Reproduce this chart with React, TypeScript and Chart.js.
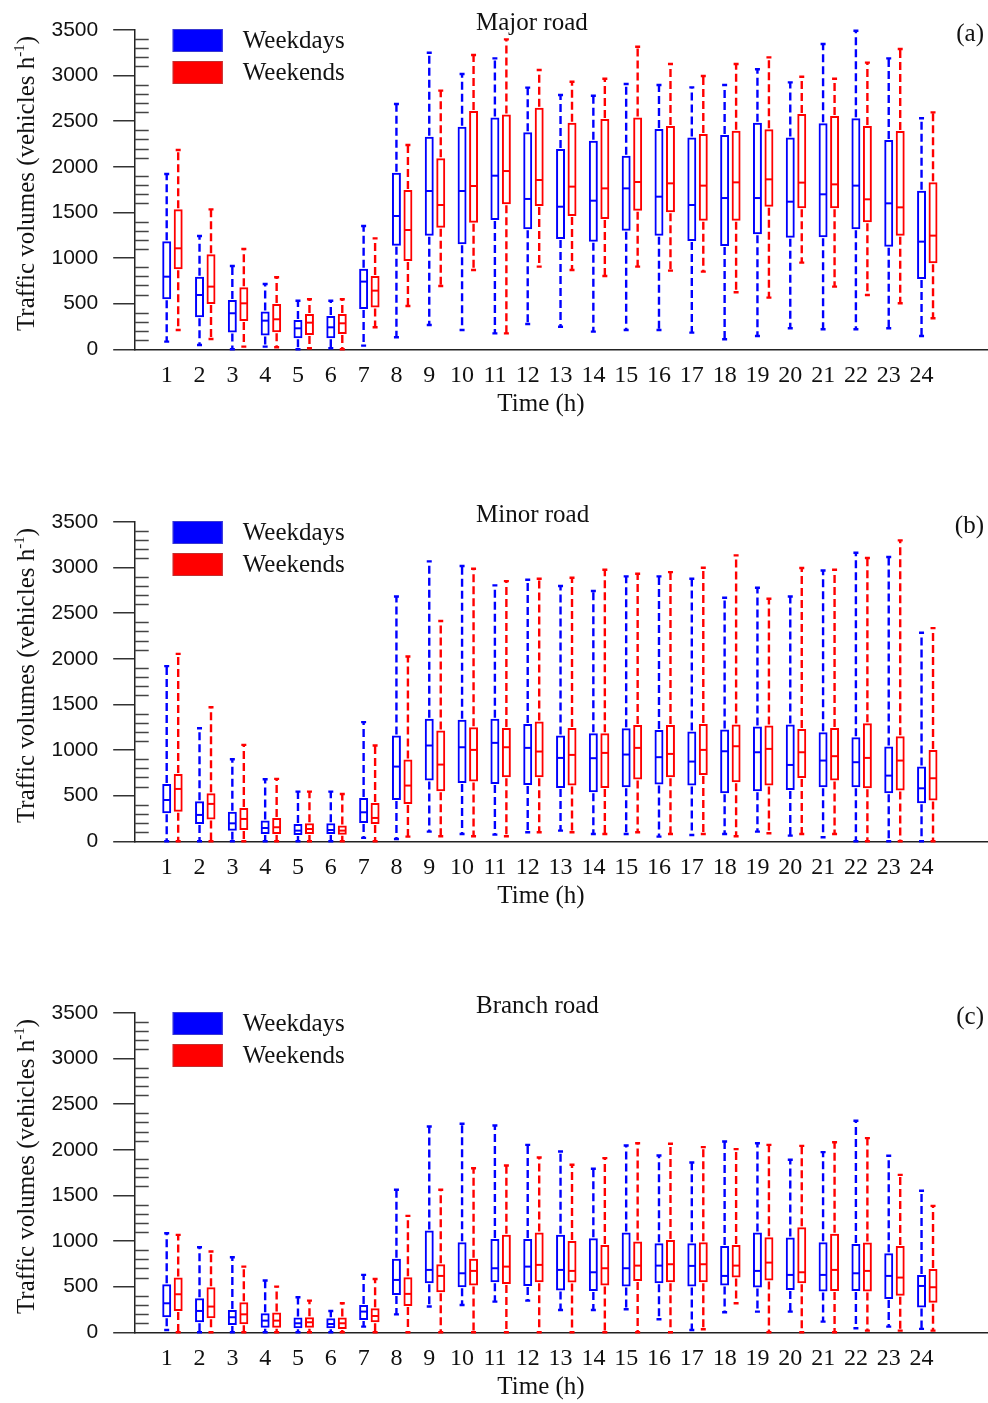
import React, { useEffect, useRef } from 'react';
import { Chart, registerables } from 'chart.js';

Chart.register(...registerables);

const hours = [1, 2, 3, 4, 5, 6, 7, 8, 9, 10, 11, 12, 13, 14, 15, 16, 17, 18, 19, 20, 21, 22, 23, 24];
const yTicks = [0, 500, 1000, 1500, 2000, 2500, 3000, 3500];

// (a) Major road – weekdays
const majorWdMax = [1921, 1242, 913, 716, 533, 533, 1352, 2689, 3251, 3017, 3189, 2868, 2787, 2780, 2908, 2897, 2871, 2897, 3069, 2926, 3346, 3492, 3189, 2532];
const majorWdQ3 = [1184, 796, 541, 413, 321, 365, 884, 1936, 2331, 2440, 2542, 2378, 2195, 2287, 2122, 2415, 2323, 2349, 2484, 2323, 2477, 2532, 2294, 1739];
const majorWdMed = [796, 595, 395, 314, 230, 241, 742, 1461, 1735, 1735, 1903, 1648, 1563, 1629, 1764, 1673, 1582, 1658, 1658, 1618, 1699, 1794, 1600, 1180];
const majorWdQ1 = [548, 351, 183, 150, 121, 121, 442, 1136, 1246, 1151, 1417, 1315, 1209, 1180, 1300, 1246, 1187, 1132, 1260, 1224, 1227, 1315, 1125, 771];
const majorWdMin = [84, 47, 0, 29, 0, 11, 40, 132, 267, 212, 175, 278, 248, 194, 212, 212, 183, 110, 146, 230, 219, 219, 230, 146];
// (a) Major road – weekends
const majorWeMax = [2185, 1534, 1100, 789, 548, 548, 1216, 2239, 2835, 3226, 3397, 3061, 2933, 2966, 3317, 3127, 2995, 3127, 3200, 2988, 2966, 3142, 3291, 2597];
const majorWeQ3 = [1534, 1041, 679, 497, 387, 387, 804, 1746, 2093, 2612, 2575, 2648, 2484, 2524, 2542, 2448, 2360, 2396, 2411, 2579, 2557, 2448, 2393, 1830];
const majorWeMed = [1107, 687, 504, 329, 292, 285, 643, 1308, 1582, 1790, 1954, 1856, 1783, 1764, 1834, 1819, 1794, 1830, 1863, 1827, 1808, 1644, 1556, 1246];
const majorWeQ1 = [877, 497, 311, 186, 157, 168, 457, 968, 1333, 1388, 1589, 1571, 1461, 1428, 1520, 1501, 1410, 1410, 1563, 1545, 1545, 1392, 1246, 942];
const majorWeMin = [212, 113, 29, 22, 11, 0, 241, 475, 694, 869, 175, 906, 869, 804, 906, 862, 851, 625, 566, 950, 687, 595, 504, 340];

// (b) Minor road – weekdays
const minorWdMax = [1920, 1240, 900, 680, 545, 545, 1306, 2684, 3068, 3017, 2805, 2867, 2798, 2743, 2904, 2904, 2878, 2670, 2779, 2684, 2969, 3163, 3116, 2286];
const minorWdQ3 = [629, 439, 325, 227, 190, 197, 475, 1159, 1342, 1331, 1342, 1287, 1159, 1185, 1240, 1221, 1203, 1225, 1258, 1280, 1196, 1141, 1039, 819];
const minorWdMed = [453, 289, 197, 146, 117, 124, 318, 819, 1050, 1031, 1079, 1024, 914, 911, 951, 922, 874, 987, 976, 837, 885, 867, 720, 581];
const minorWdQ1 = [307, 190, 117, 80, 69, 80, 201, 453, 666, 640, 629, 618, 585, 538, 592, 622, 611, 527, 549, 563, 592, 592, 527, 417];
const minorWdMin = [0, 0, 0, 0, 0, 0, 37, 26, 106, 80, 73, 99, 117, 80, 80, 51, 69, 80, 106, 62, 44, 0, 0, 0];
// (b) Minor road – weekends
const minorWeMax = [2055, 1470, 1057, 684, 545, 519, 1050, 2026, 2414, 2988, 2852, 2878, 2889, 2977, 2933, 2951, 2999, 3134, 2659, 2995, 2977, 3105, 3299, 2337];
const minorWeQ3 = [739, 527, 366, 256, 197, 172, 421, 896, 1214, 1251, 1243, 1313, 1243, 1185, 1276, 1276, 1287, 1280, 1269, 1232, 1243, 1295, 1152, 1002];
const minorWeMed = [574, 410, 245, 154, 135, 117, 256, 611, 841, 1002, 1031, 984, 947, 969, 1024, 958, 1002, 1042, 1013, 976, 933, 914, 885, 691];
const minorWeQ1 = [325, 238, 124, 80, 80, 73, 190, 410, 549, 655, 702, 702, 611, 585, 677, 702, 728, 647, 611, 695, 666, 581, 556, 446];
const minorWeMin = [0, 0, 0, 0, 0, 0, 0, 51, 55, 55, 55, 99, 99, 80, 99, 80, 80, 55, 88, 80, 80, 0, 0, 0];

// (c) Branch road – weekdays
const branchWdMax = [1086, 933, 823, 567, 384, 234, 629, 1562, 2256, 2286, 2267, 2055, 1982, 1792, 2048, 1938, 1861, 2092, 2073, 1891, 1975, 2319, 1935, 1551];
const branchWdQ3 = [527, 373, 245, 208, 161, 154, 300, 805, 1115, 987, 1024, 1024, 1068, 1031, 1093, 976, 976, 947, 1093, 1039, 987, 969, 867, 629];
const branchWdMed = [318, 234, 165, 128, 99, 91, 227, 574, 684, 647, 702, 720, 684, 658, 702, 731, 728, 618, 673, 629, 629, 647, 618, 508];
const branchWdQ1 = [165, 110, 80, 51, 44, 44, 135, 410, 538, 494, 549, 508, 457, 453, 501, 538, 501, 512, 490, 464, 446, 453, 366, 271];
const branchWdMin = [26, 0, 0, 0, 0, 0, 62, 197, 282, 300, 336, 347, 245, 245, 252, 143, 26, 219, 227, 227, 117, 44, 62, 37];
// (c) Branch road – weekends
const branchWeMax = [1068, 885, 720, 501, 347, 318, 585, 1276, 1562, 1799, 1829, 1916, 1836, 1909, 2073, 2066, 2030, 2008, 2055, 2044, 2084, 2128, 1726, 1386];
const branchWeQ3 = [600, 494, 329, 216, 165, 161, 263, 603, 746, 805, 1068, 1093, 1002, 958, 995, 1013, 987, 958, 1042, 1152, 1079, 984, 947, 695];
const branchWeMed = [417, 282, 197, 128, 110, 99, 179, 421, 618, 673, 720, 739, 673, 702, 731, 746, 746, 731, 764, 658, 684, 673, 600, 494];
const branchWeQ1 = [234, 154, 88, 51, 51, 37, 110, 289, 439, 512, 530, 549, 545, 512, 563, 549, 549, 600, 567, 538, 453, 446, 402, 325];
const branchWeMin = [0, 0, 0, 0, 0, 0, 0, 0, 0, 0, 0, 0, 0, 0, 0, 0, 33, 318, 0, 0, 0, 18, 18, 18];

const BLUE = '#0000ff';
const RED = '#ff0000';
const SERIF = '"Liberation Serif", "Times New Roman", serif';
const SANS = '"Liberation Sans", Arial, sans-serif';
const CANVAS_W = 988;
const CANVAS_H = 420;

type Stats = { max: number[]; q3: number[]; med: number[]; q1: number[]; min: number[] };

const boxPlugin = {
  id: 'boxplot',
  afterDatasetsDraw(chart: any) {
    const ctx = chart.ctx;
    const ys = chart.scales.y;
    chart.data.datasets.forEach((ds: any, d: number) => {
      const meta = chart.getDatasetMeta(d);
      const st: Stats = ds.stats;
      ctx.save();
      ctx.strokeStyle = ds.borderColor;
      meta.data.forEach((el: any, i: number) => {
        const x = el.x;
        const w = el.width;
        const pMax = ys.getPixelForValue(st.max[i]);
        const pMin = ys.getPixelForValue(st.min[i]);
        const pQ3 = ys.getPixelForValue(st.q3[i]);
        const pQ1 = ys.getPixelForValue(st.q1[i]);
        const pMed = ys.getPixelForValue(st.med[i]);
        // median
        ctx.setLineDash([]);
        ctx.lineWidth = 2;
        ctx.beginPath();
        ctx.moveTo(x - w / 2 + 1, pMed);
        ctx.lineTo(x + w / 2 - 1, pMed);
        ctx.stroke();
        // whiskers
        ctx.setLineDash([8, 4]);
        ctx.lineWidth = 2.4;
        ctx.beginPath();
        ctx.moveTo(x, pQ3 - 1);
        ctx.lineTo(x, pMax);
        ctx.moveTo(x, pQ1 + 1);
        ctx.lineTo(x, pMin);
        ctx.stroke();
        // caps
        ctx.setLineDash([]);
        ctx.lineWidth = 2.4;
        ctx.beginPath();
        ctx.moveTo(x - 2.5, pMax);
        ctx.lineTo(x + 2.5, pMax);
        ctx.moveTo(x - 2.5, pMin);
        ctx.lineTo(x + 2.5, pMin);
        ctx.stroke();
      });
      ctx.restore();
    });
  },
  afterDraw(chart: any, _args: any, opts: any) {
    const ctx = chart.ctx;
    const area = chart.chartArea;
    const ys = chart.scales.y;
    ctx.save();
    // minor ticks (inward)
    ctx.strokeStyle = '#444';
    ctx.lineWidth = 1.5;
    ctx.beginPath();
    for (let v = 100; v < 3500; v += 100) {
      if (v % 500 === 0) continue;
      const py = Math.round(ys.getPixelForValue(v)) + 0.5;
      ctx.moveTo(area.left, py);
      ctx.lineTo(area.left + 14, py);
    }
    ctx.stroke();

    // legend
    const lx = area.left + 38;
    const ly = area.top - 1;
    const items = chart.data.datasets.map((ds: any) => ({ label: ds.label, color: ds.borderColor }));
    items.forEach((it: any, k: number) => {
      const top = ly + k * 32;
      ctx.fillStyle = it.color;
      ctx.fillRect(lx, top, 50, 23);
      ctx.strokeStyle = it.color === BLUE ? '#3a3ad0' : '#c03030';
      ctx.lineWidth = 1;
      ctx.strokeRect(lx + 0.5, top + 0.5, 49, 22);
      ctx.fillStyle = '#111';
      ctx.font = `25px ${SERIF}`;
      ctx.textAlign = 'left';
      ctx.textBaseline = 'middle';
      ctx.fillText(it.label, lx + 70, top + 12);
    });

    // panel title and tag
    ctx.fillStyle = '#111';
    ctx.font = `25px ${SERIF}`;
    ctx.textBaseline = 'alphabetic';
    ctx.textAlign = 'left';
    ctx.fillText(opts.title, 476, area.top);
    ctx.textAlign = 'right';
    ctx.fillText(opts.tag, 984, area.top + 11);

    // x axis title
    ctx.textAlign = 'center';
    ctx.fillText('Time (h)', 541, area.bottom + 62);

    // y axis title with superscript
    const cy = area.top + 153.5;
    const main = 'Traffic volumes (vehicles h';
    const sup = '-1';
    const end = ')';
    ctx.font = `25px ${SERIF}`;
    const w1 = ctx.measureText(main).width;
    const w3 = ctx.measureText(end).width;
    ctx.font = `15px ${SERIF}`;
    const w2 = ctx.measureText(sup).width;
    const total = w1 + w2 + w3;
    ctx.translate(34, cy);
    ctx.rotate(-Math.PI / 2);
    ctx.textAlign = 'left';
    let sx = -total / 2;
    ctx.font = `25px ${SERIF}`;
    ctx.fillText(main, sx, 0);
    sx += w1;
    ctx.font = `15px ${SERIF}`;
    ctx.fillText(sup, sx, -10);
    sx += w2;
    ctx.font = `25px ${SERIF}`;
    ctx.fillText(end, sx, 0);
    ctx.restore();
  },
};

function Panel(props: { top: number; title: string; tag: string; wd: Stats; we: Stats }) {
  const ref = useRef<HTMLCanvasElement | null>(null);
  useEffect(() => {
    const canvas = ref.current;
    if (!canvas) return;
    const { wd, we } = props;
    const chart = new Chart(canvas, {
      type: 'bar',
      data: {
        datasets: [
          {
            label: 'Weekdays',
            data: hours.map((h, i) => ({ x: h, y: [wd.q1[i], wd.q3[i]] })) as any,
            borderColor: BLUE,
            backgroundColor: 'rgba(255,255,255,0)',
            borderWidth: 2,
            borderSkipped: false,
            stats: wd,
          } as any,
          {
            label: 'Weekends',
            data: hours.map((h, i) => ({ x: h, y: [we.q1[i], we.q3[i]] })) as any,
            borderColor: RED,
            backgroundColor: 'rgba(255,255,255,0)',
            borderWidth: 2,
            borderSkipped: false,
            stats: we,
          } as any,
        ],
      },
      options: {
        animation: false,
        responsive: false,
        maintainAspectRatio: false,
        events: [],
        layout: { padding: { left: 0, right: 0, top: 30, bottom: 0 } },
        datasets: { bar: { categoryPercentage: 0.7, barPercentage: 0.78, grouped: true } } as any,
        plugins: {
          legend: { display: false },
          tooltip: { enabled: false },
          title: { display: false },
          boxplot: { title: props.title, tag: props.tag },
        } as any,
        scales: {
          x: {
            type: 'linear',
            offset: false,
            min: -0.15,
            max: 25.85,
            grid: { display: false, drawTicks: false, offset: false },
            border: { display: true, color: '#222', width: 1.5 },
            ticks: {
              color: '#111',
              font: { family: SERIF, size: 24 },
              padding: 12,
              labelOffset: -5.7,
              maxRotation: 0,
              autoSkip: false,
              callback: (v: any) => String(v),
            },
            afterBuildTicks: (s: any) => {
              s.ticks = hours.map((h) => ({ value: h }));
            },
            afterFit: (s: any) => {
              s.height = CANVAS_H - 349.3;
            },
          },
          y: {
            type: 'linear',
            min: 0,
            max: 3500,
            grid: { display: true, drawOnChartArea: false, drawTicks: true, tickLength: 21.5, color: '#333', lineWidth: 1.5 },
            border: { display: true, color: '#222', width: 1.5 },
            ticks: {
              color: '#111',
              font: { family: SANS, size: 21 },
              padding: 15,
              stepSize: 500,
              callback: (v: any) => String(v),
            },
            afterBuildTicks: (s: any) => {
              s.ticks = yTicks.map((v) => ({ value: v }));
            },
            afterFit: (s: any) => {
              s.width = 134.7;
            },
          },
        } as any,
      },
      plugins: [boxPlugin as any],
    });
    return () => chart.destroy();
  }, []);
  return (
    <canvas
      ref={ref}
      width={CANVAS_W}
      height={CANVAS_H}
      style={{ position: 'absolute', left: 0, top: props.top, width: CANVAS_W, height: CANVAS_H }}
    />
  );
}

export default function App() {
  const majorWd: Stats = { max: majorWdMax, q3: majorWdQ3, med: majorWdMed, q1: majorWdQ1, min: majorWdMin };
  const majorWe: Stats = { max: majorWeMax, q3: majorWeQ3, med: majorWeMed, q1: majorWeQ1, min: majorWeMin };
  const minorWd: Stats = { max: minorWdMax, q3: minorWdQ3, med: minorWdMed, q1: minorWdQ1, min: minorWdMin };
  const minorWe: Stats = { max: minorWeMax, q3: minorWeQ3, med: minorWeMed, q1: minorWeQ1, min: minorWeMin };
  const branchWd: Stats = { max: branchWdMax, q3: branchWdQ3, med: branchWdMed, q1: branchWdQ1, min: branchWdMin };
  const branchWe: Stats = { max: branchWeMax, q3: branchWeQ3, med: branchWeMed, q1: branchWeQ1, min: branchWeMin };
  return (
    <div style={{ position: 'absolute', left: 0, top: 0, width: 988, height: 1403, overflow: 'hidden', background: '#fff' }}>
      <Panel top={0} title="Major road" tag="(a)" wd={majorWd} we={majorWe} />
      <Panel top={492} title="Minor road" tag="(b)" wd={minorWd} we={minorWe} />
      <Panel top={983} title="Branch road" tag="(c)" wd={branchWd} we={branchWe} />
    </div>
  );
}
